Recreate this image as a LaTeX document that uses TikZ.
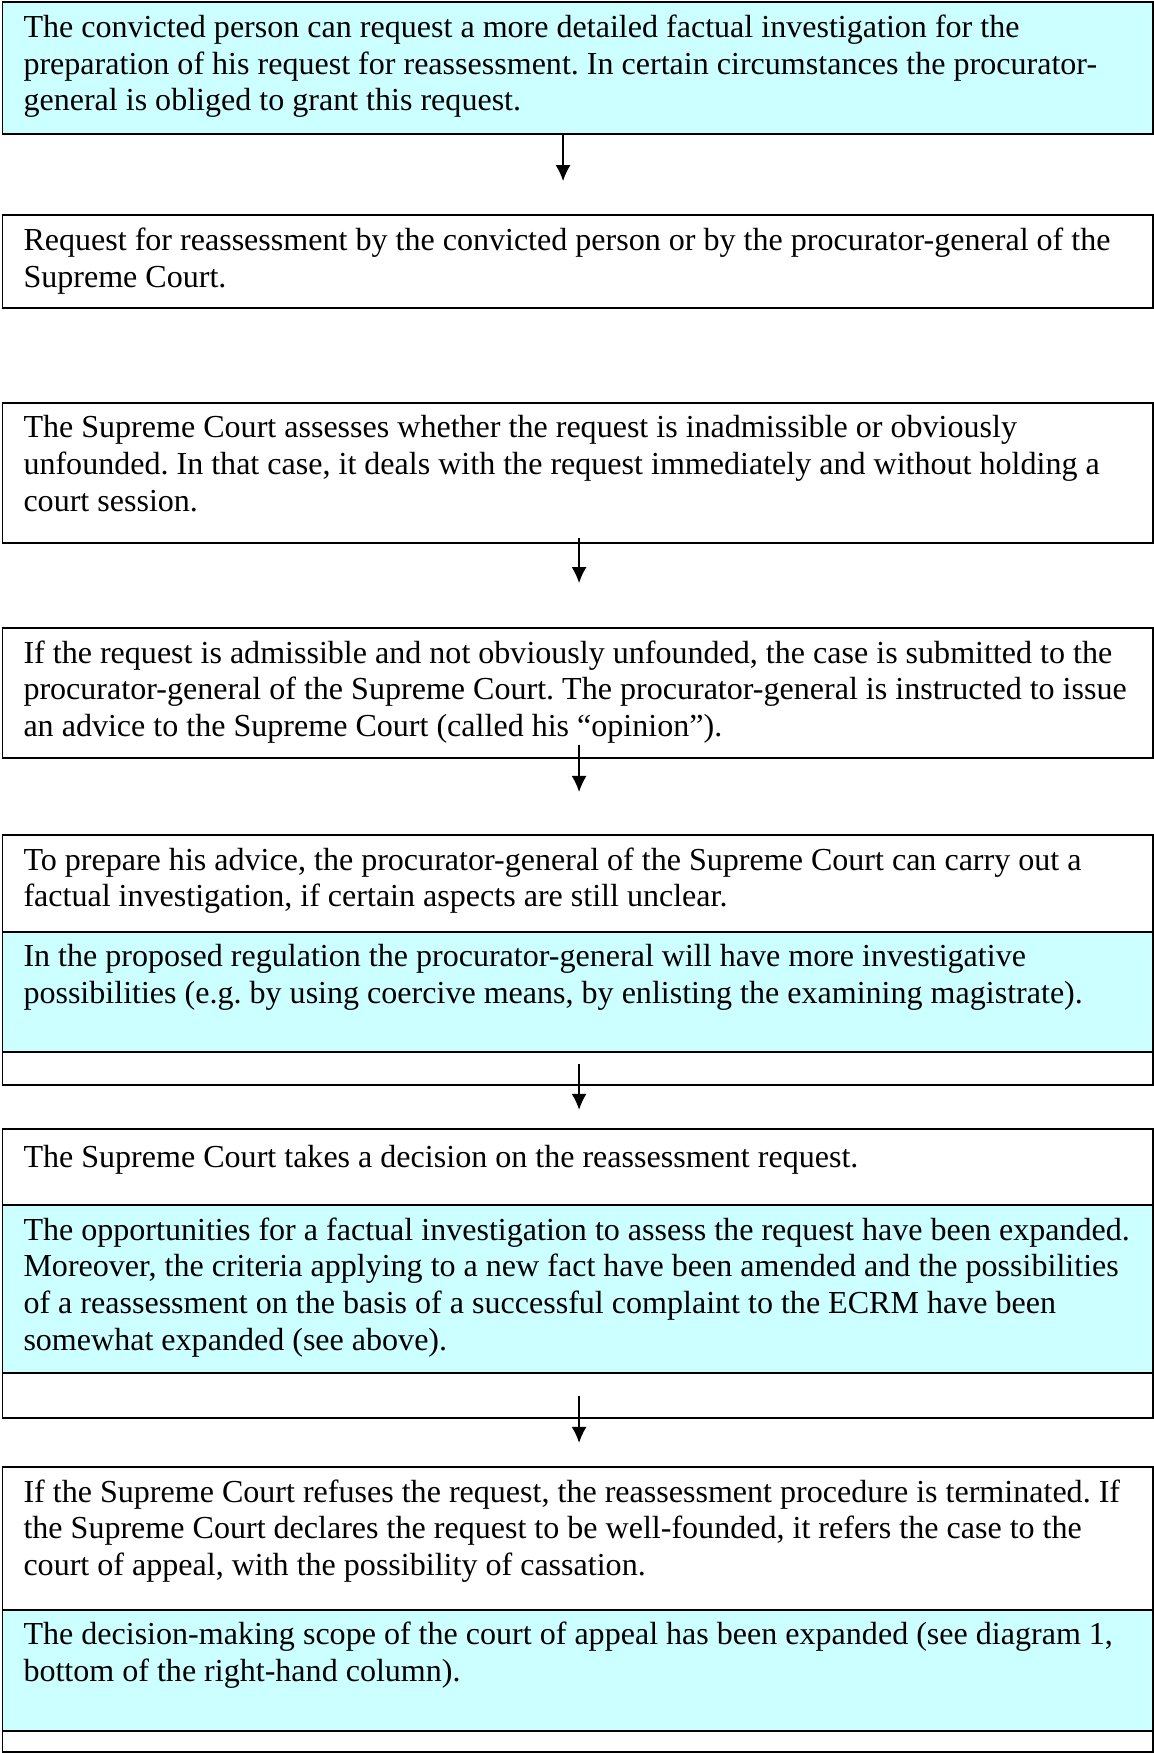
\documentclass[tikz,border=0pt]{standalone}
\usepackage{fontspec}
\setmainfont{Liberation Serif}
\usetikzlibrary{arrows.meta}
\frenchspacing
\definecolor{notecyan}{HTML}{CCFFFF}
\tikzstyle{cell}=[draw,line width=0.7pt,anchor=north west,minimum width=430.8pt,inner sep=0pt]
\tikzstyle{note}=[cell,fill=notecyan]
\tikzstyle{txt}=[anchor=north west,inner sep=0pt,align=left,font=\fontsize{12}{13.8}\selectfont,execute at begin node=\strut]
\tikzstyle{arr}=[line width=0.55pt,-{Latex[length=6pt,width=5.6pt]}]

\begin{document}
\begin{tikzpicture}
\useasboundingbox (0,0) rectangle (432pt,-656.3pt);

\node[note, minimum height=49.4pt] (p1) at (0.6pt,-0.4pt) {};
\node[cell, minimum height=34.8pt] (p2) at (0.6pt,-80.1pt) {};
\node[cell, minimum height=52.4pt] (p3) at (0.6pt,-150.5pt) {};
\node[cell, minimum height=48.7pt] (p4) at (0.6pt,-234.7pt) {};

\node[cell, minimum height=36.3pt] (p5a) at (0.6pt,-312.2pt) {};
\node[note, minimum height=44.9pt] (p5b) at (0.6pt,-348.5pt) {};
\node[cell, minimum height=12.4pt] (p5c) at (0.6pt,-393.4pt) {};

\node[cell, minimum height=28.4pt] (p6a) at (0.6pt,-422.3pt) {};
\node[note, minimum height=62.9pt] (p6b) at (0.6pt,-450.7pt) {};
\node[cell, minimum height=16.9pt] (p6c) at (0.6pt,-513.6pt) {};

\node[cell, minimum height=53.5pt] (p7a) at (0.6pt,-548.8pt) {};
\node[note, minimum height=45.3pt] (p7b) at (0.6pt,-602.3pt) {};
\node[cell, minimum height=8.1pt] (p7c) at (0.6pt,-647.6pt) {};

% texts
\node[txt] (t1) at ([shift={(8pt,-4.9pt)}]p1.north west) {The convicted person can request a more detailed factual investigation for the\\preparation of his request for reassessment. In certain circumstances the procurator-\\general is obliged to grant this request.};
\node[txt] (t2) at ([shift={(8pt,-4.9pt)}]p2.north west) {Request for reassessment by the convicted person or by the procurator-general of the\\Supreme Court.};
\node[txt] (t3) at ([shift={(8pt,-4.9pt)}]p3.north west) {The Supreme Court assesses whether the request is inadmissible or obviously\\unfounded. In that case, it deals with the request immediately and without holding a\\court session.};
\node[txt] (t4) at ([shift={(8pt,-4.9pt)}]p4.north west) {If the request is admissible and not obviously unfounded, the case is submitted to the\\procurator-general of the Supreme Court. The procurator-general is instructed to issue\\an advice to the Supreme Court (called his “opinion”).};
\node[txt] (t5a) at ([shift={(8pt,-4.9pt)}]p5a.north west) {To prepare his advice, the procurator-general of the Supreme Court can carry out a\\factual investigation, if certain aspects are still unclear.};
\node[txt] (t5b) at ([shift={(8pt,-4.9pt)}]p5b.north west) {In the proposed regulation the procurator-general will have more investigative\\possibilities (e.g. by using coercive means, by enlisting the examining magistrate).};
\node[txt] (t6a) at ([shift={(8pt,-4.9pt)}]p6a.north west) {The Supreme Court takes a decision on the reassessment request.};
\node[txt] (t6b) at ([shift={(8pt,-4.9pt)}]p6b.north west) {The opportunities for a factual investigation to assess the request have been expanded.\\Moreover, the criteria applying to a new fact have been amended and the possibilities\\of a reassessment on the basis of a successful complaint to the ECRM have been\\somewhat expanded (see above).};
\node[txt] (t7a) at ([shift={(8pt,-4.9pt)}]p7a.north west) {If the Supreme Court refuses the request, the reassessment procedure is terminated. If\\the Supreme Court declares the request to be well-founded, it refers the case to the\\court of appeal, with the possibility of cassation.};
\node[txt] (t7b) at ([shift={(8pt,-4.9pt)}]p7b.north west) {The decision-making scope of the court of appeal has been expanded (see diagram 1,\\bottom of the right-hand column).};

% arrows
\coordinate (a1) at (210.8pt,-67.8pt);
\coordinate (a2) at (216.8pt,-218.3pt);
\coordinate (a3) at (216.8pt,-296.5pt);
\coordinate (a4) at (216.8pt,-415.5pt);
\coordinate (a5) at (216.8pt,-540.2pt);

\draw[arr] (p1.south -| a1) -- (a1);
\draw[arr] ([yshift=2pt]p3.south -| a2) -- (a2);
\draw[arr] ([yshift=5.3pt]p4.south -| a3) -- (a3);
\draw[arr] ([yshift=8.2pt]p5c.south -| a4) -- (a4);
\draw[arr] ([yshift=8.7pt]p6c.south -| a5) -- (a5);

\end{tikzpicture}
\end{document}
